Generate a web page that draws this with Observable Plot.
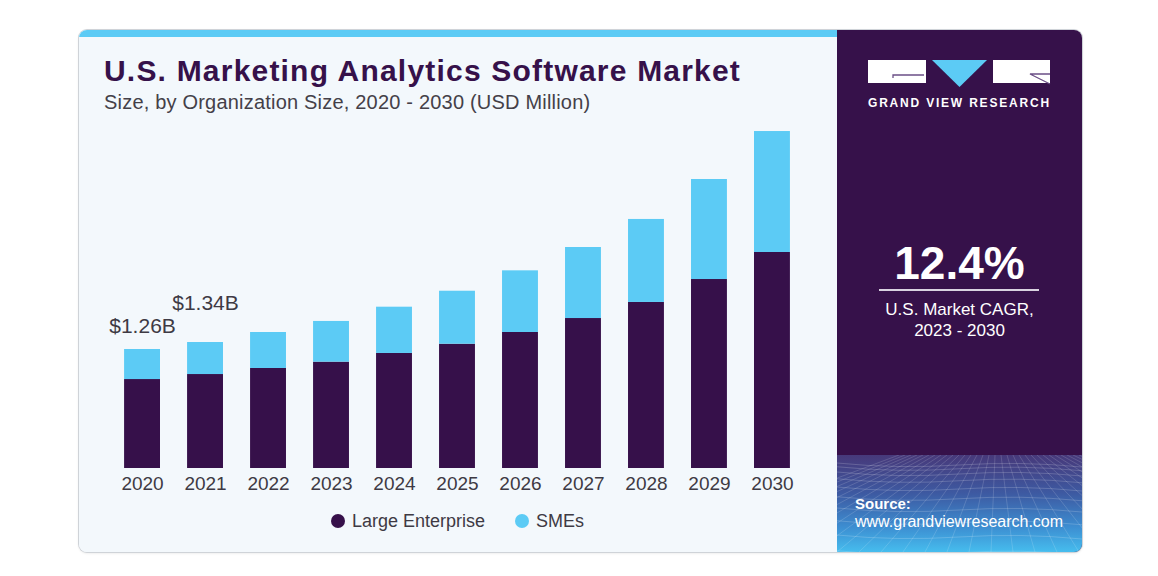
<!DOCTYPE html>
<html>
<head>
<meta charset="utf-8">
<script src="https://cdn.jsdelivr.net/npm/d3@7"></script>
<script src="https://cdn.jsdelivr.net/npm/@observablehq/plot@0.6"></script>
<style>
  html, body { margin:0; padding:0; background:#ffffff; }
  body { width:1158px; height:576px; position:relative; overflow:hidden; font-family:"Liberation Sans", Arial, sans-serif; }
  #card { position:absolute; left:79px; top:30px; width:1003px; height:522px; border-radius:8px; overflow:hidden; box-shadow:0 0 0 1px #cfd3d8, 0 1px 3px rgba(0,0,0,0.12); background:#f3f8fc; }
  #left { position:absolute; left:0; top:0; width:758px; height:522px; background:#f3f8fc; }
  #stripe { position:absolute; left:0; top:0; width:758px; height:7px; background:#5ccbf5; }
  #title { position:absolute; left:25px; top:26px; font-size:30px; line-height:30px; font-weight:bold; color:#36114a; letter-spacing:1.2px; white-space:nowrap; }
  #subtitle { position:absolute; left:25px; top:62px; font-size:20px; line-height:20px; color:#444048; letter-spacing:0.2px; white-space:nowrap; }
  #chart { position:absolute; left:0; top:90px; }
  #legend { position:absolute; left:0; top:479px; width:758px; height:24px; }
  .lg { position:absolute; top:0; font-size:18px; line-height:24px; color:#3e3a44; white-space:nowrap; }
  .dot { position:absolute; width:14px; height:14px; border-radius:50%; top:5px; }
  #right { position:absolute; left:758px; top:0; width:245px; height:522px; background:#36114a; }
  #grad { position:absolute; left:0; top:425px; width:245px; height:97px;
    background:linear-gradient(180deg, #47397a 0%, #3d5aa2 40%, #3d8fd2 75%, #46bdee 100%); }
  #gridov { position:absolute; left:0; top:425px; }
  #cagr { position:absolute; left:0; top:210px; width:245px; text-align:center; color:#ffffff; font-weight:bold; font-size:46px; line-height:46px; }
  #rule { position:absolute; left:42px; top:259px; width:160px; height:2px; background:#d9d2e0; }
  #cagrlab { position:absolute; left:0; top:269px; width:245px; text-align:center; color:#ffffff; font-size:17px; line-height:21px; }
  #src1 { position:absolute; left:18px; top:465px; color:#ffffff; font-weight:bold; font-size:15px; line-height:18px; }
  #src2 { position:absolute; left:18px; top:482px; color:#ffffff; font-size:16px; line-height:19px; white-space:nowrap; }
  #gvr { position:absolute; left:31px; top:67px; color:#ffffff; font-weight:bold; font-size:12px; line-height:12px; letter-spacing:1.8px; white-space:nowrap; }
  #logo { position:absolute; left:0; top:0; }
</style>
</head>
<body>
<div id="card">
  <div id="left">
    <div id="stripe"></div>
    <div id="title">U.S. Marketing Analytics Software Market</div>
    <div id="subtitle">Size, by Organization Size, 2020 - 2030 (USD Million)</div>
    <div id="chart"></div>
    <div id="legend"></div>
  </div>
  <div id="right">
    <svg id="logo" width="245" height="70">
      <rect x="31" y="30" width="58" height="23" fill="#ffffff"/>
      <path d="M56 48 L56 45 L87 45" stroke="#6b4f86" stroke-width="1.3" fill="none"/>
      <polygon points="95,30 150,30 122.5,57" fill="#5ccbf5"/>
      <rect x="156" y="30" width="57" height="23" fill="#ffffff"/>
      <path d="M213 44 L193 44 L213 54" stroke="#6b4f86" stroke-width="1.3" fill="none"/>
    </svg>
    <div id="gvr">GRAND VIEW RESEARCH</div>
    <div id="cagr">12.4%</div>
    <div id="rule"></div>
    <div id="cagrlab">U.S. Market CAGR,<br>2023 - 2030</div>
    <div id="grad"></div>
    <svg id="gridov" width="245" height="97"></svg>
    <div id="src1">Source:</div>
    <div id="src2">www.grandviewresearch.com</div>
  </div>
</div>
<script>
// ---- data ----
const years = ["2020","2021","2022","2023","2024","2025","2026","2027","2028","2029","2030"];
const largeEnterprise = [942, 995, 1059, 1126, 1218, 1316, 1440, 1588, 1758, 2001, 2287];
const smes = [318, 339, 381, 431, 490, 561, 653, 752, 879, 1059, 1281];
const seriesNames = ["Large Enterprise", "SMEs"];
const seriesColors = ["#36104a", "#5ccbf5"];
const annotationYears = ["2020", "2021"];
const annotationLabels = ["$1.26B", "$1.34B"];

const rows = [];
years.forEach((yr, i) => {
  rows.push({year: yr, segment: seriesNames[0], value: largeEnterprise[i]});
  rows.push({year: yr, segment: seriesNames[1], value: smes[i]});
});
const totals = years.map((yr, i) => ({year: yr, total: largeEnterprise[i] + smes[i]}));
const ann = annotationYears.map((yr, i) => ({year: yr, label: annotationLabels[i], total: totals[years.indexOf(yr)].total}));

const chart = Plot.plot({
  width: 758,
  height: 380,
  marginLeft: 18,
  marginRight: 20,
  marginTop: 8,
  marginBottom: 32,
  style: {background: "transparent", fontFamily: "'Liberation Sans', Arial, sans-serif", color: "#3e3a44", overflow: "visible"},
  x: {domain: years, padding: 0.43, round: false, label: null},
  y: {domain: [0, 3600], axis: null},
  color: {domain: seriesNames, range: seriesColors},
  marks: [
    Plot.barY(rows, {x: "year", y: "value", fill: "segment", order: seriesNames}),
    Plot.axisX({tickSize: 0, tickPadding: 8, fontSize: 19, label: null, fill: "#3e3a44"}),
    Plot.text([ann[0]], {x: "year", y: "total", text: "label", dy: -23.5, fontSize: 21, fill: "#3e3a44"}),
    Plot.text([ann[1]], {x: "year", y: "total", text: "label", dy: -39, fontSize: 21, fill: "#3e3a44"})
  ]
});
document.getElementById("chart").appendChild(chart);

// legend
const legend = document.getElementById("legend");
const legendPos = [{dot: 252, text: 273}, {dot: 436, text: 457}];
seriesNames.forEach((n, i) => {
  const d = document.createElement("div");
  d.className = "dot";
  d.style.left = legendPos[i].dot + "px";
  d.style.background = seriesColors[i];
  legend.appendChild(d);
  const t = document.createElement("div");
  t.className = "lg";
  t.style.left = legendPos[i].text + "px";
  t.textContent = n;
  legend.appendChild(t);
});

// decorative perspective grid in the source panel
const g = d3.select("#gridov");
for (let k = 0; k < 12; k++) {
  const yy = 8 + k * k * 0.75 + k * 3;
  g.append("path")
    .attr("d", `M0 ${yy} Q 60 ${yy + 6} 122 ${yy + 2} T 245 ${yy + 4}`)
    .attr("stroke", "rgba(255,255,255,0.18)").attr("fill", "none").attr("stroke-width", 1);
}
for (let k = -10; k < 30; k++) {
  const x0 = 122 + k * 6;
  const x1 = 122 + k * 22 - 100;
  g.append("path")
    .attr("d", `M${x0} 0 L${x1} 97`)
    .attr("stroke", "rgba(255,255,255,0.15)").attr("fill", "none").attr("stroke-width", 1);
}
</script>
</body>
</html>
